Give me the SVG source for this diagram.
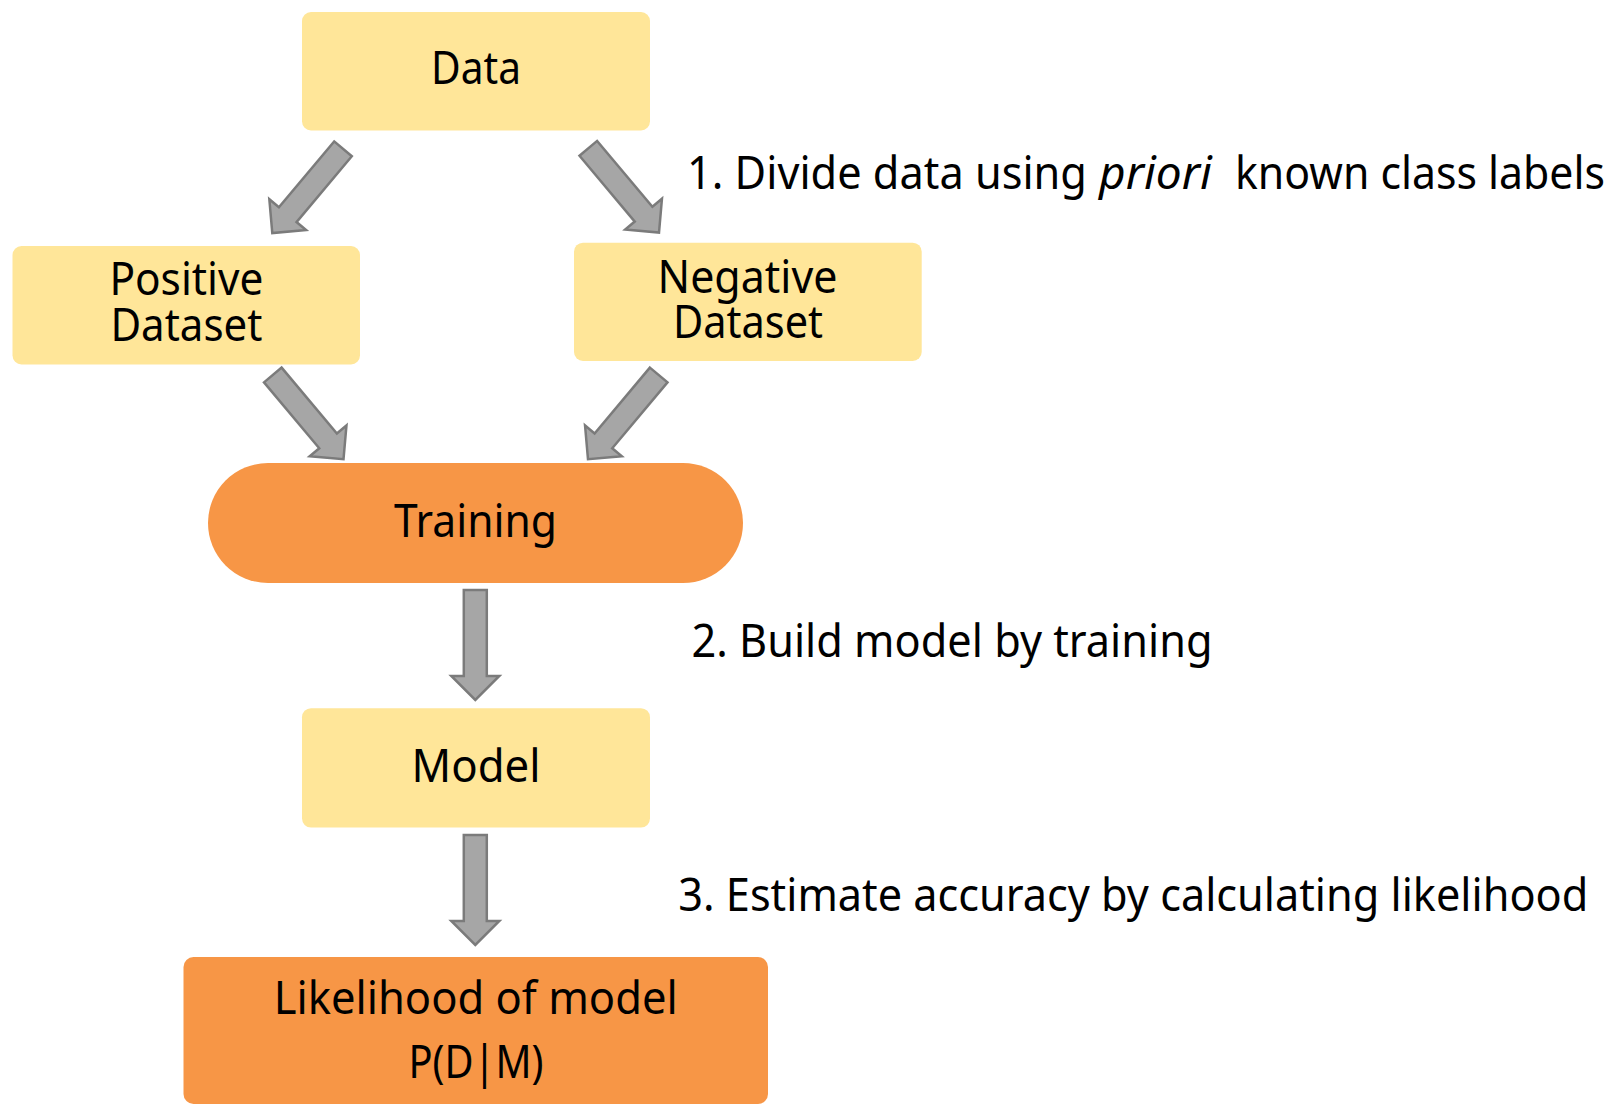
<svg xmlns="http://www.w3.org/2000/svg" xmlns:xlink="http://www.w3.org/1999/xlink" width="1614" height="1105" viewBox="0 0 1614 1105">
  <style>
    .box-light { fill: #ffe699; }
    .box-strong { fill: #f79646; }
    .label { font-family: "Noto Sans", "Open Sans", sans-serif; font-size: 45px; fill: #000000; }
    .center { text-anchor: middle; }
    .block-arrow { fill: #a6a6a6; stroke: #7b7b7b; stroke-width: 2.5; stroke-linejoin: miter; }
  </style>
  <defs>
    <!-- block arrow pointing along +y, tail centre at origin, length 110 -->
    <path id="blockArrow" d="M -11.5 0 L 11.5 0 L 11.5 86 L 24 86 L 0 110 L -24 86 L -11.5 86 Z"/>
  </defs>

  <rect width="1614" height="1105" fill="#ffffff"/>

  <g id="connectors">
    <use xlink:href="#blockArrow" class="block-arrow" transform="translate(343 148.8) rotate(40)"/>
    <use xlink:href="#blockArrow" class="block-arrow" transform="translate(588.3 148.3) rotate(-40)"/>
    <use xlink:href="#blockArrow" class="block-arrow" transform="translate(272.8 375) rotate(-40)"/>
    <use xlink:href="#blockArrow" class="block-arrow" transform="translate(658.7 375) rotate(40)"/>
    <use xlink:href="#blockArrow" class="block-arrow" transform="translate(475.3 590)"/>
    <use xlink:href="#blockArrow" class="block-arrow" transform="translate(475.3 835)"/>
  </g>

  <g id="node-data">
    <rect class="box-light" x="302" y="12" width="348" height="118.5" rx="9"/>
    <text class="label center" x="476" y="84" textLength="90" lengthAdjust="spacingAndGlyphs">Data</text>
  </g>

  <g id="node-positive">
    <rect class="box-light" x="12.5" y="246" width="347.5" height="118.5" rx="9"/>
    <text class="label center" x="186.4" y="295" textLength="154" lengthAdjust="spacingAndGlyphs">Positive</text>
    <text class="label center" x="186.4" y="340.5" textLength="152" lengthAdjust="spacingAndGlyphs">Dataset</text>
  </g>

  <g id="node-negative">
    <rect class="box-light" x="574" y="242.7" width="347.7" height="118.3" rx="9"/>
    <text class="label center" x="747.5" y="292.7" textLength="180" lengthAdjust="spacingAndGlyphs">Negative</text>
    <text class="label center" x="748" y="338.3" textLength="150" lengthAdjust="spacingAndGlyphs">Dataset</text>
  </g>

  <g id="node-training">
    <rect class="box-strong" x="208" y="463" width="535" height="120" rx="60"/>
    <text class="label center" x="475.5" y="537" textLength="163" lengthAdjust="spacingAndGlyphs">Training</text>
  </g>

  <g id="node-model">
    <rect class="box-light" x="302" y="708.2" width="348" height="119.4" rx="9"/>
    <text class="label center" x="476" y="782" textLength="129" lengthAdjust="spacingAndGlyphs">Model</text>
  </g>

  <g id="node-likelihood">
    <rect class="box-strong" x="183.5" y="957" width="584.5" height="147" rx="10"/>
    <text class="label center" x="475.7" y="1014" textLength="404" lengthAdjust="spacingAndGlyphs">Likelihood of model</text>
    <text class="label center" x="476" y="1077.7" textLength="135" lengthAdjust="spacingAndGlyphs">P(D|M)</text>
  </g>

  <g id="step-labels">
    <text class="label" y="189.3">
      <tspan x="687" textLength="400" lengthAdjust="spacingAndGlyphs">1. Divide data using</tspan>
      <tspan x="1099" font-style="italic" textLength="113" lengthAdjust="spacingAndGlyphs">priori</tspan>
      <tspan x="1235" textLength="370" lengthAdjust="spacingAndGlyphs">known class labels</tspan>
    </text>
    <text class="label" x="691.5" y="656.7" textLength="521" lengthAdjust="spacingAndGlyphs">2. Build model by training</text>
    <text class="label" x="678.3" y="910.7" textLength="910" lengthAdjust="spacingAndGlyphs">3. Estimate accuracy by calculating likelihood</text>
  </g>
</svg>
